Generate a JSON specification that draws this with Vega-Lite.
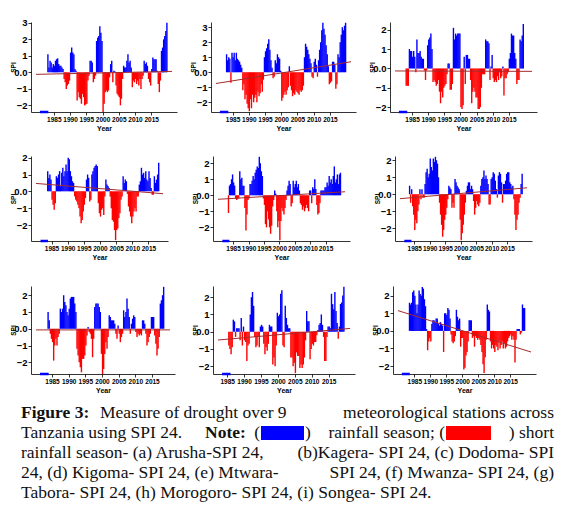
{
"$schema": "https://vega.github.io/schema/vega-lite/v6.json",
"background": "white",
"padding": {"left": 10, "top": 17, "right": 2, "bottom": 2},
"datasets": {
"a": [{"t":1983.17,"v":1.1},{"t":1983.5,"v":0.3},{"t":1983.83,"v":0.7},{"t":1984.17,"v":0.6},{"t":1984.5,"v":0.3},{"t":1984.83,"v":0.5},{"t":1985.17,"v":0.4},{"t":1985.5,"v":0.7},{"t":1985.83,"v":0.8},{"t":1986.17,"v":0.85},{"t":1986.5,"v":0.5},{"t":1986.83,"v":0.4},{"t":1987.17,"v":0.4},{"t":1987.5,"v":0.3},{"t":1987.83,"v":0.2},{"t":1988.17,"v":-0.4},{"t":1988.5,"v":-0.6},{"t":1988.83,"v":-1.0},{"t":1989.17,"v":-0.8},{"t":1989.5,"v":-0.7},{"t":1989.83,"v":-0.5},{"t":1990.17,"v":1.2},{"t":1990.5,"v":1.5},{"t":1990.83,"v":1.2},{"t":1991.17,"v":1.1},{"t":1991.5,"v":0.2},{"t":1991.83,"v":0.1},{"t":1992.17,"v":-1.7},{"t":1992.5,"v":-1.2},{"t":1992.83,"v":-1.5},{"t":1993.17,"v":-1.6},{"t":1993.5,"v":-1.9},{"t":1993.83,"v":-1.3},{"t":1994.17,"v":-1.5},{"t":1994.5,"v":-2.0},{"t":1994.83,"v":-1.95},{"t":1995.17,"v":-1.9},{"t":1995.5,"v":-0.5},{"t":1995.83,"v":-0.2},{"t":1996.17,"v":0.7},{"t":1996.5,"v":0.7},{"t":1996.83,"v":0.6},{"t":1997.17,"v":-0.6},{"t":1997.5,"v":-0.4},{"t":1997.83,"v":-0.2},{"t":1998.17,"v":1.9},{"t":1998.5,"v":2.1},{"t":1998.83,"v":2.2},{"t":1999.17,"v":2.8},{"t":1999.5,"v":2.4},{"t":1999.83,"v":1.9},{"t":2000.17,"v":-2.4},{"t":2000.5,"v":-1.9},{"t":2000.83,"v":-1.2},{"t":2001.17,"v":-1.1},{"t":2001.5,"v":-1.2},{"t":2001.83,"v":-1.1},{"t":2002.17,"v":-0.3},{"t":2002.5,"v":0.5},{"t":2002.83,"v":0.7},{"t":2003.17,"v":-0.6},{"t":2003.5,"v":0.1},{"t":2003.83,"v":0.05},{"t":2004.17,"v":-0.8},{"t":2004.5,"v":-1.3},{"t":2004.83,"v":-1.4},{"t":2005.17,"v":-1.5},{"t":2005.5,"v":-2.0},{"t":2005.83,"v":-1.6},{"t":2006.17,"v":-0.4},{"t":2006.5,"v":0.4},{"t":2006.83,"v":0.3},{"t":2007.17,"v":0.3},{"t":2007.5,"v":0.7},{"t":2007.83,"v":1.1},{"t":2008.17,"v":0.6},{"t":2008.5,"v":0.7},{"t":2008.83,"v":0.3},{"t":2009.17,"v":-0.9},{"t":2009.5,"v":-0.5},{"t":2009.83,"v":-0.6},{"t":2010.17,"v":-0.4},{"t":2010.5,"v":-0.7},{"t":2010.83,"v":-0.5},{"t":2011.17,"v":-0.8},{"t":2011.5,"v":-0.4},{"t":2011.83,"v":-1.0},{"t":2012.17,"v":-0.4},{"t":2012.5,"v":-0.2},{"t":2012.83,"v":0.7},{"t":2013.17,"v":0.5},{"t":2013.5,"v":0.6},{"t":2013.83,"v":0.4},{"t":2014.17,"v":-0.4},{"t":2014.5,"v":-0.6},{"t":2014.83,"v":-0.8},{"t":2015.17,"v":0.2},{"t":2015.5,"v":0.9},{"t":2015.83,"v":0.8},{"t":2016.17,"v":0.8},{"t":2016.5,"v":0.8},{"t":2016.83,"v":0.1},{"t":2017.17,"v":-0.7},{"t":2017.5,"v":-1.2},{"t":2017.83,"v":-0.5},{"t":2018.17,"v":1.3},{"t":2018.5,"v":1.5},{"t":2018.83,"v":2.0},{"t":2019.17,"v":2.2},{"t":2019.5,"v":2.5},{"t":2019.83,"v":3.0}],
"b": [{"t":1983.17,"v":1.2},{"t":1983.5,"v":0.8},{"t":1983.83,"v":1.0},{"t":1984.17,"v":0.9},{"t":1984.5,"v":-0.7},{"t":1984.83,"v":1.3},{"t":1985.17,"v":1.0},{"t":1985.5,"v":1.3},{"t":1985.83,"v":0.8},{"t":1986.17,"v":1.3},{"t":1986.5,"v":0.9},{"t":1986.83,"v":0.8},{"t":1987.17,"v":0.7},{"t":1987.5,"v":0.5},{"t":1987.83,"v":0.3},{"t":1988.17,"v":-1.2},{"t":1988.5,"v":-0.8},{"t":1988.83,"v":-1.8},{"t":1989.17,"v":-1.5},{"t":1989.5,"v":-2.1},{"t":1989.83,"v":-2.4},{"t":1990.17,"v":-2.6},{"t":1990.5,"v":-1.8},{"t":1990.83,"v":-2.4},{"t":1991.17,"v":-1.5},{"t":1991.5,"v":-2.0},{"t":1991.83,"v":-1.7},{"t":1992.17,"v":-1.5},{"t":1992.5,"v":-2.0},{"t":1992.83,"v":-1.3},{"t":1993.17,"v":-1.6},{"t":1993.5,"v":-1.4},{"t":1993.83,"v":-0.8},{"t":1994.17,"v":-1.3},{"t":1994.5,"v":-0.5},{"t":1994.83,"v":1.0},{"t":1995.17,"v":1.4},{"t":1995.5,"v":1.6},{"t":1995.83,"v":1.9},{"t":1996.17,"v":2.2},{"t":1996.5,"v":1.5},{"t":1996.83,"v":0.8},{"t":1997.17,"v":0.3},{"t":1997.5,"v":-0.4},{"t":1997.83,"v":-0.3},{"t":1998.17,"v":0.8},{"t":1998.5,"v":0.6},{"t":1998.83,"v":1.2},{"t":1999.17,"v":1.0},{"t":1999.5,"v":0.9},{"t":1999.83,"v":0.1},{"t":2000.17,"v":-1.9},{"t":2000.5,"v":-1.7},{"t":2000.83,"v":-1.5},{"t":2001.17,"v":-1.3},{"t":2001.5,"v":-1.5},{"t":2001.83,"v":-1.2},{"t":2002.17,"v":-1.0},{"t":2002.5,"v":0.4},{"t":2002.83,"v":-0.9},{"t":2003.17,"v":-1.2},{"t":2003.5,"v":-1.6},{"t":2003.83,"v":-1.4},{"t":2004.17,"v":-1.5},{"t":2004.5,"v":-1.2},{"t":2004.83,"v":-1.3},{"t":2005.17,"v":-1.4},{"t":2005.5,"v":-1.5},{"t":2005.83,"v":-1.2},{"t":2006.17,"v":-1.3},{"t":2006.5,"v":-1.2},{"t":2006.83,"v":-0.9},{"t":2007.17,"v":1.0},{"t":2007.5,"v":1.9},{"t":2007.83,"v":1.7},{"t":2008.17,"v":1.5},{"t":2008.5,"v":1.2},{"t":2008.83,"v":0.9},{"t":2009.17,"v":0.6},{"t":2009.5,"v":-0.3},{"t":2009.83,"v":-0.4},{"t":2010.17,"v":0.7},{"t":2010.5,"v":0.9},{"t":2010.83,"v":0.5},{"t":2011.17,"v":-0.3},{"t":2011.5,"v":0.8},{"t":2011.83,"v":1.5},{"t":2012.17,"v":2.0},{"t":2012.5,"v":2.8},{"t":2012.83,"v":3.3},{"t":2013.17,"v":2.9},{"t":2013.5,"v":2.5},{"t":2013.83,"v":1.8},{"t":2014.17,"v":1.2},{"t":2014.5,"v":0.4},{"t":2014.83,"v":-0.8},{"t":2015.17,"v":-0.7},{"t":2015.5,"v":-0.6},{"t":2015.83,"v":0.7},{"t":2016.17,"v":0.7},{"t":2016.5,"v":0.5},{"t":2016.83,"v":-1.1},{"t":2017.17,"v":-0.8},{"t":2017.5,"v":1.2},{"t":2017.83,"v":1.0},{"t":2018.17,"v":2.0},{"t":2018.5,"v":2.5},{"t":2018.83,"v":3.0},{"t":2019.17,"v":2.8},{"t":2019.5,"v":3.1},{"t":2019.83,"v":3.3}],
"c": [{"t":1983.17,"v":-0.9},{"t":1983.5,"v":-0.9},{"t":1983.83,"v":-0.9},{"t":1984.17,"v":1.0},{"t":1984.5,"v":0.9},{"t":1984.83,"v":0.9},{"t":1985.17,"v":0.6},{"t":1985.5,"v":0.9},{"t":1985.83,"v":0.6},{"t":1986.17,"v":-0.2},{"t":1986.5,"v":1.5},{"t":1986.83,"v":0.8},{"t":1987.17,"v":0.8},{"t":1987.5,"v":0.9},{"t":1987.83,"v":0.6},{"t":1988.17,"v":0.5},{"t":1988.5,"v":0.5},{"t":1988.83,"v":-0.1},{"t":1989.17,"v":-0.6},{"t":1989.5,"v":-0.1},{"t":1989.83,"v":1.2},{"t":1990.17,"v":1.5},{"t":1990.5,"v":1.6},{"t":1990.83,"v":1.8},{"t":1991.17,"v":1.0},{"t":1991.5,"v":-0.7},{"t":1991.83,"v":-0.6},{"t":1992.17,"v":-0.7},{"t":1992.5,"v":-0.9},{"t":1992.83,"v":-0.8},{"t":1993.17,"v":-0.6},{"t":1993.5,"v":-1.2},{"t":1993.83,"v":-1.8},{"t":1994.17,"v":-1.2},{"t":1994.5,"v":-1.5},{"t":1994.83,"v":-1.0},{"t":1995.17,"v":-0.9},{"t":1995.5,"v":-0.8},{"t":1995.83,"v":-0.3},{"t":1996.17,"v":0.25},{"t":1996.5,"v":0.25},{"t":1996.83,"v":-1.1},{"t":1997.17,"v":-1.1},{"t":1997.5,"v":-0.8},{"t":1997.83,"v":2.1},{"t":1998.17,"v":1.5},{"t":1998.5,"v":1.8},{"t":1998.83,"v":1.7},{"t":1999.17,"v":1.8},{"t":1999.5,"v":1.8},{"t":1999.83,"v":1.8},{"t":2000.17,"v":-2.0},{"t":2000.5,"v":-2.1},{"t":2000.83,"v":-1.9},{"t":2001.17,"v":0.6},{"t":2001.5,"v":-0.8},{"t":2001.83,"v":0.7},{"t":2002.17,"v":0.7},{"t":2002.5,"v":0.5},{"t":2002.83,"v":0.5},{"t":2003.17,"v":-0.6},{"t":2003.5,"v":-1.8},{"t":2003.83,"v":-1.2},{"t":2004.17,"v":-1.0},{"t":2004.5,"v":-1.2},{"t":2004.83,"v":-1.5},{"t":2005.17,"v":-1.5},{"t":2005.5,"v":-2.1},{"t":2005.83,"v":-2.1},{"t":2006.17,"v":-2.0},{"t":2006.5,"v":-1.0},{"t":2006.83,"v":-0.3},{"t":2007.17,"v":-0.3},{"t":2007.5,"v":-0.3},{"t":2007.83,"v":1.5},{"t":2008.17,"v":1.4},{"t":2008.5,"v":1.4},{"t":2008.83,"v":1.3},{"t":2009.17,"v":-0.6},{"t":2009.5,"v":0.1},{"t":2009.83,"v":0.7},{"t":2010.17,"v":-0.5},{"t":2010.5,"v":-0.7},{"t":2010.83,"v":-0.6},{"t":2011.17,"v":-0.7},{"t":2011.5,"v":-0.4},{"t":2011.83,"v":-0.6},{"t":2012.17,"v":-0.2},{"t":2012.5,"v":-0.5},{"t":2012.83,"v":-0.4},{"t":2013.17,"v":0.1},{"t":2013.5,"v":-1.4},{"t":2013.83,"v":-0.5},{"t":2014.17,"v":-0.5},{"t":2014.5,"v":-0.3},{"t":2014.83,"v":-0.2},{"t":2015.17,"v":0.5},{"t":2015.5,"v":0.8},{"t":2015.83,"v":1.8},{"t":2016.17,"v":1.7},{"t":2016.5,"v":1.7},{"t":2016.83,"v":0.8},{"t":2017.17,"v":0.5},{"t":2017.5,"v":-0.8},{"t":2017.83,"v":-0.6},{"t":2018.17,"v":-0.6},{"t":2018.5,"v":1.5},{"t":2018.83,"v":1.4},{"t":2019.17,"v":1.7},{"t":2019.5,"v":2.3}],
"d": [{"t":1983.83,"v":1.2},{"t":1984.17,"v":0.8},{"t":1984.5,"v":1.0},{"t":1984.83,"v":0.7},{"t":1985.17,"v":-0.5},{"t":1985.5,"v":-0.8},{"t":1985.83,"v":-1.1},{"t":1986.17,"v":-0.7},{"t":1986.5,"v":0.9},{"t":1986.83,"v":0.8},{"t":1987.17,"v":1.0},{"t":1987.5,"v":1.2},{"t":1987.83,"v":0.3},{"t":1988.17,"v":1.1},{"t":1988.5,"v":1.4},{"t":1988.83,"v":0.9},{"t":1989.17,"v":1.2},{"t":1989.5,"v":1.6},{"t":1989.83,"v":1.2},{"t":1990.17,"v":2.0},{"t":1990.5,"v":1.9},{"t":1990.83,"v":1.2},{"t":1991.17,"v":0.9},{"t":1991.5,"v":0.6},{"t":1991.83,"v":0.5},{"t":1992.17,"v":-0.3},{"t":1992.5,"v":-0.5},{"t":1992.83,"v":-0.6},{"t":1993.17,"v":-0.8},{"t":1993.5,"v":-1.0},{"t":1993.83,"v":-1.5},{"t":1994.17,"v":-1.9},{"t":1994.5,"v":-1.7},{"t":1994.83,"v":-1.2},{"t":1995.17,"v":-0.8},{"t":1995.5,"v":-0.4},{"t":1995.83,"v":0.7},{"t":1996.17,"v":1.0},{"t":1996.5,"v":0.8},{"t":1996.83,"v":-0.6},{"t":1997.17,"v":-0.5},{"t":1997.5,"v":1.0},{"t":1997.83,"v":1.2},{"t":1998.17,"v":1.4},{"t":1998.5,"v":1.5},{"t":1998.83,"v":1.6},{"t":1999.17,"v":1.5},{"t":1999.5,"v":-0.7},{"t":1999.83,"v":-1.3},{"t":2000.17,"v":-1.5},{"t":2000.5,"v":-1.1},{"t":2000.83,"v":-1.0},{"t":2001.17,"v":-1.4},{"t":2001.5,"v":-0.3},{"t":2001.83,"v":0.7},{"t":2002.17,"v":0.4},{"t":2002.5,"v":0.3},{"t":2002.83,"v":0.2},{"t":2003.17,"v":-0.3},{"t":2003.5,"v":-1.0},{"t":2003.83,"v":-1.7},{"t":2004.17,"v":-1.8},{"t":2004.5,"v":-2.3},{"t":2004.83,"v":-2.9},{"t":2005.17,"v":-2.3},{"t":2005.5,"v":-2.2},{"t":2005.83,"v":-1.6},{"t":2006.17,"v":-1.3},{"t":2006.5,"v":-0.5},{"t":2006.83,"v":-0.3},{"t":2007.17,"v":0.9},{"t":2007.5,"v":0.5},{"t":2007.83,"v":0.7},{"t":2008.17,"v":0.6},{"t":2008.5,"v":-0.15},{"t":2008.83,"v":-0.9},{"t":2009.17,"v":-1.2},{"t":2009.5,"v":-1.5},{"t":2009.83,"v":-1.9},{"t":2010.17,"v":-1.5},{"t":2010.5,"v":-1.2},{"t":2010.83,"v":-1.0},{"t":2011.17,"v":-1.2},{"t":2011.5,"v":-0.3},{"t":2011.83,"v":-0.3},{"t":2012.17,"v":0.4},{"t":2012.5,"v":0.6},{"t":2012.83,"v":1.4},{"t":2013.17,"v":1.0},{"t":2013.5,"v":1.1},{"t":2013.83,"v":0.8},{"t":2014.17,"v":1.2},{"t":2014.5,"v":0.7},{"t":2014.83,"v":0.6},{"t":2015.17,"v":1.2},{"t":2015.5,"v":0.8},{"t":2015.83,"v":0.2},{"t":2016.17,"v":-0.2},{"t":2016.5,"v":-0.2},{"t":2016.83,"v":0.9},{"t":2017.17,"v":0.5},{"t":2017.5,"v":0.7},{"t":2017.83,"v":1.0},{"t":2018.17,"v":1.7}],
"e": [{"t":1983.5,"v":-1.1},{"t":1983.83,"v":0.6},{"t":1984.17,"v":0.7},{"t":1984.5,"v":1.0},{"t":1984.83,"v":1.3},{"t":1985.17,"v":0.8},{"t":1985.5,"v":0.6},{"t":1985.83,"v":-0.2},{"t":1986.17,"v":-0.3},{"t":1986.5,"v":-0.2},{"t":1986.83,"v":-0.2},{"t":1987.17,"v":1.5},{"t":1987.5,"v":1.0},{"t":1987.83,"v":1.1},{"t":1988.17,"v":0.6},{"t":1988.5,"v":0.6},{"t":1988.83,"v":-0.8},{"t":1989.17,"v":-2.2},{"t":1989.5,"v":-1.2},{"t":1989.83,"v":-0.3},{"t":1990.17,"v":-0.2},{"t":1990.5,"v":0.7},{"t":1990.83,"v":0.7},{"t":1991.17,"v":0.9},{"t":1991.5,"v":1.2},{"t":1991.83,"v":1.0},{"t":1992.17,"v":1.4},{"t":1992.5,"v":1.6},{"t":1992.83,"v":1.8},{"t":1993.17,"v":1.7},{"t":1993.5,"v":2.4},{"t":1993.83,"v":2.0},{"t":1994.17,"v":1.5},{"t":1994.5,"v":1.2},{"t":1994.83,"v":-0.2},{"t":1995.17,"v":-0.6},{"t":1995.5,"v":-1.8},{"t":1995.83,"v":-2.0},{"t":1996.17,"v":-1.0},{"t":1996.5,"v":-1.5},{"t":1996.83,"v":-2.0},{"t":1997.17,"v":-2.4},{"t":1997.5,"v":-1.9},{"t":1997.83,"v":-0.7},{"t":1998.17,"v":-0.3},{"t":1998.5,"v":0.3},{"t":1998.83,"v":0.1},{"t":1999.17,"v":-1.0},{"t":1999.5,"v":-2.0},{"t":1999.83,"v":-1.6},{"t":2000.17,"v":-2.8},{"t":2000.5,"v":-1.6},{"t":2000.83,"v":-0.8},{"t":2001.17,"v":-1.0},{"t":2001.5,"v":-1.2},{"t":2001.83,"v":-0.8},{"t":2002.17,"v":-0.3},{"t":2002.5,"v":0.3},{"t":2002.83,"v":0.6},{"t":2003.17,"v":0.9},{"t":2003.5,"v":0.7},{"t":2003.83,"v":-0.7},{"t":2004.17,"v":-0.5},{"t":2004.5,"v":0.9},{"t":2004.83,"v":0.5},{"t":2005.17,"v":0.7},{"t":2005.5,"v":0.9},{"t":2005.83,"v":0.5},{"t":2006.17,"v":0.7},{"t":2006.5,"v":0.3},{"t":2006.83,"v":-0.5},{"t":2007.17,"v":-0.6},{"t":2007.5,"v":-0.9},{"t":2007.83,"v":-0.7},{"t":2008.17,"v":-1.0},{"t":2008.5,"v":-0.8},{"t":2008.83,"v":-0.6},{"t":2009.17,"v":-0.8},{"t":2009.5,"v":-1.0},{"t":2009.83,"v":0.3},{"t":2010.17,"v":0.3},{"t":2010.5,"v":-0.5},{"t":2010.83,"v":0.5},{"t":2011.17,"v":0.4},{"t":2011.5,"v":1.0},{"t":2011.83,"v":0.4},{"t":2012.17,"v":-0.6},{"t":2012.5,"v":-1.2},{"t":2012.83,"v":-1.1},{"t":2013.17,"v":-0.5},{"t":2013.5,"v":0.3},{"t":2013.83,"v":0.3},{"t":2014.17,"v":0.3},{"t":2014.5,"v":0.3},{"t":2014.83,"v":0.5},{"t":2015.17,"v":0.5},{"t":2015.5,"v":0.8},{"t":2015.83,"v":0.6},{"t":2016.17,"v":1.2},{"t":2016.5,"v":0.8},{"t":2016.83,"v":1.0},{"t":2017.17,"v":0.7},{"t":2017.5,"v":1.2},{"t":2017.83,"v":1.8},{"t":2018.17,"v":0.8},{"t":2018.5,"v":1.0},{"t":2018.83,"v":1.3},{"t":2019.17,"v":0.7},{"t":2019.5,"v":1.3},{"t":2019.83,"v":1.4}],
"f": [{"t":1983.5,"v":0.5},{"t":1983.83,"v":-0.5},{"t":1984.17,"v":0.3},{"t":1984.5,"v":-0.7},{"t":1984.83,"v":-1.2},{"t":1985.17,"v":-2.1},{"t":1985.5,"v":-1.5},{"t":1985.83,"v":-1.7},{"t":1986.17,"v":-1.0},{"t":1986.5,"v":-0.6},{"t":1986.83,"v":0.3},{"t":1987.17,"v":-0.3},{"t":1987.5,"v":0.3},{"t":1987.83,"v":-0.2},{"t":1988.17,"v":-0.2},{"t":1988.5,"v":0.6},{"t":1988.83,"v":1.3},{"t":1989.17,"v":1.5},{"t":1989.5,"v":1.0},{"t":1989.83,"v":1.2},{"t":1990.17,"v":2.1},{"t":1990.5,"v":1.6},{"t":1990.83,"v":1.4},{"t":1991.17,"v":2.1},{"t":1991.5,"v":1.9},{"t":1991.83,"v":2.2},{"t":1992.17,"v":2.0},{"t":1992.5,"v":1.8},{"t":1992.83,"v":1.0},{"t":1993.17,"v":-0.5},{"t":1993.5,"v":-1.2},{"t":1993.83,"v":-1.8},{"t":1994.17,"v":-2.5},{"t":1994.5,"v":-2.1},{"t":1994.83,"v":-1.5},{"t":1995.17,"v":-1.2},{"t":1995.5,"v":-0.8},{"t":1995.83,"v":-0.3},{"t":1996.17,"v":0.5},{"t":1996.5,"v":0.4},{"t":1996.83,"v":0.3},{"t":1997.17,"v":-0.8},{"t":1997.5,"v":-0.5},{"t":1997.83,"v":-0.8},{"t":1998.17,"v":0.9},{"t":1998.5,"v":0.7},{"t":1998.83,"v":0.5},{"t":1999.17,"v":0.4},{"t":1999.5,"v":0.3},{"t":1999.83,"v":-1.5},{"t":2000.17,"v":-2.7},{"t":2000.5,"v":-2.3},{"t":2000.83,"v":-1.8},{"t":2001.17,"v":-1.2},{"t":2001.5,"v":-0.5},{"t":2001.83,"v":0.2},{"t":2002.17,"v":0.5},{"t":2002.5,"v":0.7},{"t":2002.83,"v":0.7},{"t":2003.17,"v":0.3},{"t":2003.5,"v":0.5},{"t":2003.83,"v":0.3},{"t":2004.17,"v":-0.4},{"t":2004.5,"v":-1.2},{"t":2004.83,"v":-0.8},{"t":2005.17,"v":-0.4},{"t":2005.5,"v":-0.6},{"t":2005.83,"v":-0.7},{"t":2006.17,"v":-0.5},{"t":2006.5,"v":0.5},{"t":2006.83,"v":0.9},{"t":2007.17,"v":1.0},{"t":2007.5,"v":1.4},{"t":2007.83,"v":0.9},{"t":2008.17,"v":1.1},{"t":2008.5,"v":0.9},{"t":2008.83,"v":0.6},{"t":2009.17,"v":-0.6},{"t":2009.5,"v":-0.6},{"t":2009.83,"v":0.9},{"t":2010.17,"v":1.0},{"t":2010.5,"v":1.3},{"t":2010.83,"v":1.2},{"t":2011.17,"v":0.8},{"t":2011.5,"v":0.3},{"t":2011.83,"v":-0.2},{"t":2012.17,"v":1.1},{"t":2012.5,"v":1.3},{"t":2012.83,"v":1.2},{"t":2013.17,"v":0.7},{"t":2013.5,"v":-0.5},{"t":2013.83,"v":0.6},{"t":2014.17,"v":0.6},{"t":2014.5,"v":0.8},{"t":2014.83,"v":1.2},{"t":2015.17,"v":1.3},{"t":2015.5,"v":1.3},{"t":2015.83,"v":0.7},{"t":2016.17,"v":0.6},{"t":2016.5,"v":0.4},{"t":2016.83,"v":0.5},{"t":2017.17,"v":-0.3},{"t":2017.5,"v":-1.2},{"t":2017.83,"v":-2.1},{"t":2018.17,"v":-1.5},{"t":2018.5,"v":-1.2},{"t":2018.83,"v":-0.5},{"t":2019.17,"v":-0.2},{"t":2019.5,"v":0.6},{"t":2019.83,"v":1.2}],
"g": [{"t":1983.83,"v":1.0},{"t":1984.17,"v":0.5},{"t":1984.5,"v":-0.3},{"t":1984.83,"v":-0.6},{"t":1985.17,"v":-0.8},{"t":1985.5,"v":-1.9},{"t":1985.83,"v":-1.0},{"t":1986.17,"v":-0.6},{"t":1986.5,"v":-1.0},{"t":1986.83,"v":-0.5},{"t":1987.17,"v":-0.3},{"t":1987.5,"v":1.2},{"t":1987.83,"v":1.0},{"t":1988.17,"v":1.2},{"t":1988.5,"v":2.0},{"t":1988.83,"v":1.6},{"t":1989.17,"v":1.4},{"t":1989.5,"v":1.0},{"t":1989.83,"v":0.8},{"t":1990.17,"v":1.2},{"t":1990.5,"v":1.8},{"t":1990.83,"v":1.9},{"t":1991.17,"v":1.9},{"t":1991.5,"v":1.9},{"t":1991.83,"v":1.5},{"t":1992.17,"v":1.0},{"t":1992.5,"v":-1.2},{"t":1992.83,"v":-1.6},{"t":1993.17,"v":-2.0},{"t":1993.5,"v":-2.3},{"t":1993.83,"v":-2.6},{"t":1994.17,"v":-1.8},{"t":1994.5,"v":-1.8},{"t":1994.83,"v":-1.6},{"t":1995.17,"v":-1.0},{"t":1995.5,"v":-0.4},{"t":1995.83,"v":0.1},{"t":1996.17,"v":-0.2},{"t":1996.5,"v":-0.3},{"t":1996.83,"v":-0.6},{"t":1997.17,"v":-1.7},{"t":1997.5,"v":-0.6},{"t":1997.83,"v":1.3},{"t":1998.17,"v":1.5},{"t":1998.5,"v":1.5},{"t":1998.83,"v":1.5},{"t":1999.17,"v":1.3},{"t":1999.5,"v":1.0},{"t":1999.83,"v":-1.5},{"t":2000.17,"v":-2.7},{"t":2000.5,"v":-2.4},{"t":2000.83,"v":-1.5},{"t":2001.17,"v":-0.8},{"t":2001.5,"v":-1.2},{"t":2001.83,"v":-0.5},{"t":2002.17,"v":0.8},{"t":2002.5,"v":0.7},{"t":2002.83,"v":0.5},{"t":2003.17,"v":0.5},{"t":2003.5,"v":0.5},{"t":2003.83,"v":0.3},{"t":2004.17,"v":-0.3},{"t":2004.5,"v":-0.6},{"t":2004.83,"v":0.2},{"t":2005.17,"v":-0.3},{"t":2005.5,"v":-0.8},{"t":2005.83,"v":-0.5},{"t":2006.17,"v":-0.3},{"t":2006.5,"v":1.1},{"t":2006.83,"v":0.7},{"t":2007.17,"v":1.0},{"t":2007.5,"v":1.8},{"t":2007.83,"v":1.2},{"t":2008.17,"v":0.7},{"t":2008.5,"v":-0.3},{"t":2008.83,"v":0.3},{"t":2009.17,"v":0.6},{"t":2009.5,"v":0.8},{"t":2009.83,"v":0.7},{"t":2010.17,"v":-0.2},{"t":2010.5,"v":-0.5},{"t":2010.83,"v":-0.3},{"t":2011.17,"v":-0.4},{"t":2011.5,"v":-0.3},{"t":2011.83,"v":-0.4},{"t":2012.17,"v":0.5},{"t":2012.5,"v":0.5},{"t":2012.83,"v":0.3},{"t":2013.17,"v":-0.3},{"t":2013.5,"v":-1.0},{"t":2013.83,"v":-0.8},{"t":2014.17,"v":-0.5},{"t":2014.5,"v":-0.3},{"t":2014.83,"v":0.7},{"t":2015.17,"v":0.7},{"t":2015.5,"v":0.7},{"t":2015.83,"v":-0.4},{"t":2016.17,"v":-0.9},{"t":2016.5,"v":-1.6},{"t":2016.83,"v":-1.2},{"t":2017.17,"v":-0.5},{"t":2017.5,"v":1.5},{"t":2017.83,"v":1.7},{"t":2018.17,"v":2.0},{"t":2018.5,"v":2.5}],
"h": [{"t":1985.5,"v":-0.8},{"t":1985.83,"v":-1.0},{"t":1986.17,"v":-1.3},{"t":1986.5,"v":-0.9},{"t":1986.83,"v":0.7},{"t":1987.17,"v":0.6},{"t":1987.5,"v":-0.3},{"t":1987.83,"v":0.2},{"t":1988.17,"v":0.2},{"t":1988.5,"v":0.2},{"t":1988.83,"v":-0.5},{"t":1989.17,"v":0.8},{"t":1989.5,"v":-0.8},{"t":1989.83,"v":0.3},{"t":1990.17,"v":-0.5},{"t":1990.5,"v":-0.6},{"t":1990.83,"v":-1.7},{"t":1991.17,"v":-0.8},{"t":1991.5,"v":-0.7},{"t":1991.83,"v":1.0},{"t":1992.17,"v":2.0},{"t":1992.5,"v":2.3},{"t":1992.83,"v":1.5},{"t":1993.17,"v":-0.3},{"t":1993.5,"v":-0.9},{"t":1993.83,"v":-0.8},{"t":1994.17,"v":-0.3},{"t":1994.5,"v":-0.9},{"t":1994.83,"v":0.3},{"t":1995.17,"v":0.4},{"t":1995.5,"v":0.3},{"t":1995.83,"v":-0.7},{"t":1996.17,"v":-1.3},{"t":1996.5,"v":-0.9},{"t":1996.83,"v":-1.1},{"t":1997.17,"v":-0.7},{"t":1997.5,"v":0.4},{"t":1997.83,"v":0.3},{"t":1998.17,"v":0.3},{"t":1998.5,"v":-1.9},{"t":1998.83,"v":-1.5},{"t":1999.17,"v":-2.0},{"t":1999.5,"v":-0.8},{"t":1999.83,"v":1.1},{"t":2000.17,"v":0.9},{"t":2000.5,"v":1.0},{"t":2000.83,"v":2.2},{"t":2001.17,"v":2.4},{"t":2001.5,"v":-0.8},{"t":2001.83,"v":-0.9},{"t":2002.17,"v":1.5},{"t":2002.5,"v":0.8},{"t":2002.83,"v":0.4},{"t":2003.17,"v":0.2},{"t":2003.5,"v":0.2},{"t":2003.83,"v":-1.5},{"t":2004.17,"v":-1.5},{"t":2004.5,"v":-2.0},{"t":2004.83,"v":-1.8},{"t":2005.17,"v":-2.4},{"t":2005.5,"v":-1.2},{"t":2005.83,"v":-1.4},{"t":2006.17,"v":-1.4},{"t":2006.5,"v":-2.1},{"t":2006.83,"v":-1.9},{"t":2007.17,"v":-2.1},{"t":2007.5,"v":-1.9},{"t":2007.83,"v":-1.5},{"t":2008.17,"v":-0.5},{"t":2008.5,"v":1.2},{"t":2008.83,"v":0.6},{"t":2009.17,"v":0.6},{"t":2009.5,"v":-1.6},{"t":2009.83,"v":-1.0},{"t":2010.17,"v":-0.7},{"t":2010.5,"v":-0.8},{"t":2010.83,"v":-0.6},{"t":2011.17,"v":-0.6},{"t":2011.5,"v":-0.2},{"t":2011.83,"v":0.1},{"t":2012.17,"v":0.4},{"t":2012.5,"v":0.5},{"t":2012.83,"v":1.0},{"t":2013.17,"v":0.4},{"t":2013.5,"v":-0.3},{"t":2013.83,"v":-1.7},{"t":2014.17,"v":-1.7},{"t":2014.5,"v":-0.3},{"t":2014.83,"v":0.3},{"t":2015.17,"v":0.3},{"t":2015.5,"v":0.2},{"t":2015.83,"v":2.2},{"t":2016.17,"v":1.6},{"t":2016.5,"v":1.3},{"t":2016.83,"v":2.3},{"t":2017.17,"v":1.2},{"t":2017.5,"v":0.5},{"t":2017.83,"v":-0.4},{"t":2018.17,"v":0.3},{"t":2018.5,"v":1.6},{"t":2018.83,"v":1.7},{"t":2019.17,"v":2.1},{"t":2019.5,"v":2.6}],
"i": [{"t":1983.5,"v":1.6},{"t":1983.83,"v":1.5},{"t":1984.17,"v":1.6},{"t":1984.5,"v":2.2},{"t":1984.83,"v":2.3},{"t":1985.17,"v":2.0},{"t":1985.5,"v":1.5},{"t":1985.83,"v":1.0},{"t":1986.17,"v":1.5},{"t":1986.5,"v":2.3},{"t":1986.83,"v":2.1},{"t":1987.17,"v":2.0},{"t":1987.5,"v":2.5},{"t":1987.83,"v":2.4},{"t":1988.17,"v":1.8},{"t":1988.5,"v":1.4},{"t":1988.83,"v":0.1},{"t":1989.17,"v":-1.1},{"t":1989.5,"v":-0.6},{"t":1989.83,"v":-0.4},{"t":1990.17,"v":-0.6},{"t":1990.5,"v":0.4},{"t":1990.83,"v":0.6},{"t":1991.17,"v":0.6},{"t":1991.5,"v":0.5},{"t":1991.83,"v":0.7},{"t":1992.17,"v":0.7},{"t":1992.5,"v":0.4},{"t":1992.83,"v":0.3},{"t":1993.17,"v":0.5},{"t":1993.5,"v":0.4},{"t":1993.83,"v":0.3},{"t":1994.17,"v":-1.2},{"t":1994.5,"v":1.0},{"t":1994.83,"v":1.0},{"t":1995.17,"v":0.9},{"t":1995.5,"v":1.3},{"t":1995.83,"v":1.2},{"t":1996.17,"v":0.7},{"t":1996.5,"v":-0.2},{"t":1996.83,"v":-0.6},{"t":1997.17,"v":-0.7},{"t":1997.5,"v":-0.6},{"t":1997.83,"v":-0.3},{"t":1998.17,"v":1.2},{"t":1998.5,"v":0.8},{"t":1998.83,"v":0.6},{"t":1999.17,"v":0.7},{"t":1999.5,"v":-0.9},{"t":1999.83,"v":-0.4},{"t":2000.17,"v":-0.4},{"t":2000.5,"v":-2.2},{"t":2000.83,"v":-2.1},{"t":2001.17,"v":-1.4},{"t":2001.5,"v":-1.2},{"t":2001.83,"v":-0.6},{"t":2002.17,"v":0.6},{"t":2002.5,"v":0.6},{"t":2002.83,"v":0.6},{"t":2003.17,"v":-0.4},{"t":2003.5,"v":-0.3},{"t":2003.83,"v":-0.9},{"t":2004.17,"v":-0.3},{"t":2004.5,"v":-0.4},{"t":2004.83,"v":-0.5},{"t":2005.17,"v":-0.4},{"t":2005.5,"v":-0.5},{"t":2005.83,"v":-0.8},{"t":2006.17,"v":-1.2},{"t":2006.5,"v":-1.9},{"t":2006.83,"v":-2.4},{"t":2007.17,"v":-1.5},{"t":2007.5,"v":-0.5},{"t":2007.83,"v":1.5},{"t":2008.17,"v":1.2},{"t":2008.5,"v":1.1},{"t":2008.83,"v":-0.6},{"t":2009.17,"v":-1.0},{"t":2009.5,"v":-0.8},{"t":2009.83,"v":-1.0},{"t":2010.17,"v":-1.2},{"t":2010.5,"v":-0.8},{"t":2010.83,"v":-0.9},{"t":2011.17,"v":-1.1},{"t":2011.5,"v":-0.6},{"t":2011.83,"v":-1.0},{"t":2012.17,"v":-0.8},{"t":2012.5,"v":-0.6},{"t":2012.83,"v":-1.0},{"t":2013.17,"v":-0.7},{"t":2013.5,"v":-1.0},{"t":2013.83,"v":-0.9},{"t":2014.17,"v":-0.6},{"t":2014.5,"v":-0.4},{"t":2014.83,"v":-0.3},{"t":2015.17,"v":-0.2},{"t":2015.5,"v":-0.5},{"t":2015.83,"v":-0.3},{"t":2016.17,"v":-0.5},{"t":2016.5,"v":-1.8},{"t":2016.83,"v":-0.5},{"t":2017.17,"v":0.1},{"t":2017.5,"v":0.1},{"t":2017.83,"v":0.1},{"t":2018.17,"v":-0.2},{"t":2018.5,"v":-0.1},{"t":2018.83,"v":1.5},{"t":2019.17,"v":1.3},{"t":2019.5,"v":1.3}],
"a_tr": [{"t":1979.5,"v":-0.12},{"t":2021.4,"v":0.06}],
"b_tr": [{"t":1979.9,"v":-0.75},{"t":2021.5,"v":0.7}],
"c_tr": [{"t":1979.7,"v":-0.13},{"t":2022.2,"v":-0.15}],
"d_tr": [{"t":1980.2,"v":0.47},{"t":2019.5,"v":-0.14}],
"e_tr": [{"t":1980.1,"v":-0.25},{"t":2021.3,"v":0.22}],
"f_tr": [{"t":1980.4,"v":-0.26},{"t":2021.4,"v":0.38}],
"g_tr": [{"t":1980.2,"v":-0.07},{"t":2020.4,"v":-0.07}],
"h_tr": [{"t":1982.3,"v":-0.48},{"t":2021.3,"v":0.19}],
"i_tr": [{"t":1979.9,"v":1.15},{"t":2021.5,"v":-1.2}],
"capL": [{"line":2,"txt":"Tanzania using SPI 24."},{"line":3,"txt":"rainfall season- (a) Arusha-SPI 24,"},{"line":4,"txt":"24, (d) Kigoma- SPI 24, (e) Mtwara-"},{"line":5,"txt":"Tabora- SPI 24, (h) Morogoro- SPI 24, (i) Songea- SPI 24."}],
"capR": [{"line":1,"txt":"meteorological stations across"},{"line":2,"txt":") short"},{"line":3,"txt":"(b)Kagera- SPI 24, (c) Dodoma- SPI"},{"line":4,"txt":"SPI 24, (f) Mwanza- SPI 24, (g)"}]
},
"vconcat": [
{"vconcat": [
{"vconcat": [
{"hconcat": [
{"width": 146, "height": 90, "encoding": {"x": {"field": "t", "type": "quantitative", "scale": {"domain": [1979.5, 2021.4], "nice": false, "zero": false}, "axis": {"values": [1985,1990,1995,2000,2005,2010,2015], "format": "d", "title": "Year", "labelOverlap": false, "labelSeparation": -40}}, "y": {"field": "v", "type": "quantitative", "scale": {"domain": [-2.4, 3.05], "nice": false}, "axis": {"values": [-2,-1,0,1,2,3], "title": "SPI", "labelOverlap": false, "labelSeparation": -40, "labelExpr": "datum.value === 0 ? '0.0' : datum.label"}}}, "layer": [
{"data": {"name": "a"}, "mark": {"type": "bar", "orient": "vertical", "width": 1.4}, "encoding": {"color": {"condition": {"test": "datum.v >= 0", "value": "#0000ff"}, "value": "#ff0000"}}},
{"data": {"name": "a_tr"}, "mark": {"type": "line", "color": "#a52a2a", "strokeWidth": 1}},
{"data": {"values": [{"t": 1980.7, "t2": 1983.3, "v": -2.4}]}, "mark": {"type": "rule", "color": "#0000ff", "strokeWidth": 2.5}, "encoding": {"x2": {"field": "t2"}}}
]},
{"width": 145, "height": 90, "encoding": {"x": {"field": "t", "type": "quantitative", "scale": {"domain": [1979.9, 2021.5], "nice": false, "zero": false}, "axis": {"values": [1985,1990,1995,2000,2005,2010,2015], "format": "d", "title": "Year", "labelOverlap": false, "labelSeparation": -40}}, "y": {"field": "v", "type": "quantitative", "scale": {"domain": [-2.65, 3.35], "nice": false}, "axis": {"values": [-2,-1,0,1,2,3], "title": "SPI", "labelOverlap": false, "labelSeparation": -40, "labelExpr": "datum.value === 0 ? '0.0' : datum.label"}}}, "layer": [
{"data": {"name": "b"}, "mark": {"type": "bar", "orient": "vertical", "width": 1.4}, "encoding": {"color": {"condition": {"test": "datum.v >= 0", "value": "#0000ff"}, "value": "#ff0000"}}},
{"data": {"name": "b_tr"}, "mark": {"type": "line", "color": "#a52a2a", "strokeWidth": 1}},
{"data": {"values": [{"t": 1981.1, "t2": 1983.7, "v": -2.65}]}, "mark": {"type": "rule", "color": "#0000ff", "strokeWidth": 2.5}, "encoding": {"x2": {"field": "t2"}}}
]},
{"width": 147, "height": 90, "encoding": {"x": {"field": "t", "type": "quantitative", "scale": {"domain": [1979.7, 2022.2], "nice": false, "zero": false}, "axis": {"values": [1985,1990,1995,2000,2005,2010,2015], "format": "d", "title": "Year", "labelOverlap": false, "labelSeparation": -40}}, "y": {"field": "v", "type": "quantitative", "scale": {"domain": [-2.25, 2.4], "nice": false}, "axis": {"values": [-2,-1,0,1,2], "title": "SPI", "labelOverlap": false, "labelSeparation": -40, "labelExpr": "datum.value === 0 ? '0.0' : datum.label"}}}, "layer": [
{"data": {"name": "c"}, "mark": {"type": "bar", "orient": "vertical", "width": 1.4}, "encoding": {"color": {"condition": {"test": "datum.v >= 0", "value": "#0000ff"}, "value": "#ff0000"}}},
{"data": {"name": "c_tr"}, "mark": {"type": "line", "color": "#a52a2a", "strokeWidth": 1}},
{"data": {"values": [{"t": 1980.9, "t2": 1983.5, "v": -2.25}]}, "mark": {"type": "rule", "color": "#0000ff", "strokeWidth": 2.5}, "encoding": {"x2": {"field": "t2"}}}
]}
], "spacing": 13},
{"hconcat": [
{"width": 137, "height": 85, "encoding": {"x": {"field": "t", "type": "quantitative", "scale": {"domain": [1980.2, 2019.5], "nice": false, "zero": false}, "axis": {"values": [1985,1990,1995,2000,2005,2010,2015], "format": "d", "title": "Year", "labelOverlap": false, "labelSeparation": -40}}, "y": {"field": "v", "type": "quantitative", "scale": {"domain": [-2.95, 2.1], "nice": false}, "axis": {"values": [-2,-1,0,1,2], "title": "SPI", "labelOverlap": false, "labelSeparation": -40, "labelExpr": "datum.value === 0 ? '0.0' : datum.label"}}}, "layer": [
{"data": {"name": "d"}, "mark": {"type": "bar", "orient": "vertical", "width": 1.4}, "encoding": {"color": {"condition": {"test": "datum.v >= 0", "value": "#0000ff"}, "value": "#ff0000"}}},
{"data": {"name": "d_tr"}, "mark": {"type": "line", "color": "#a52a2a", "strokeWidth": 1}},
{"data": {"values": [{"t": 1981.6, "t2": 1983.9, "v": -2.95}]}, "mark": {"type": "rule", "color": "#0000ff", "strokeWidth": 2.5}, "encoding": {"x2": {"field": "t2"}}}
]},
{"width": 137, "height": 85, "encoding": {"x": {"field": "t", "type": "quantitative", "scale": {"domain": [1980.1, 2021.3], "nice": false, "zero": false}, "axis": {"values": [1985,1990,1995,2000,2005,2010,2015], "format": "d", "title": "Year", "labelOverlap": false, "labelSeparation": -40}}, "y": {"field": "v", "type": "quantitative", "scale": {"domain": [-2.85, 2.45], "nice": false}, "axis": {"values": [-2,-1,0,1,2], "title": "SPI", "labelOverlap": false, "labelSeparation": -40, "labelExpr": "datum.value === 0 ? '0.0' : datum.label"}}}, "layer": [
{"data": {"name": "e"}, "mark": {"type": "bar", "orient": "vertical", "width": 1.4}, "encoding": {"color": {"condition": {"test": "datum.v >= 0", "value": "#0000ff"}, "value": "#ff0000"}}},
{"data": {"name": "e_tr"}, "mark": {"type": "line", "color": "#a52a2a", "strokeWidth": 1}},
{"data": {"values": [{"t": 1981.5, "t2": 1983.8, "v": -2.85}]}, "mark": {"type": "rule", "color": "#0000ff", "strokeWidth": 2.5}, "encoding": {"x2": {"field": "t2"}}}
]},
{"width": 137, "height": 85, "encoding": {"x": {"field": "t", "type": "quantitative", "scale": {"domain": [1980.4, 2021.4], "nice": false, "zero": false}, "axis": {"values": [1985,1990,1995,2000,2005,2010,2015], "format": "d", "title": "Year", "labelOverlap": false, "labelSeparation": -40}}, "y": {"field": "v", "type": "quantitative", "scale": {"domain": [-2.75, 2.25], "nice": false}, "axis": {"values": [-2,-1,0,1,2], "title": "SPI", "labelOverlap": false, "labelSeparation": -40, "labelExpr": "datum.value === 0 ? '0.0' : datum.label"}}}, "layer": [
{"data": {"name": "f"}, "mark": {"type": "bar", "orient": "vertical", "width": 1.4}, "encoding": {"color": {"condition": {"test": "datum.v >= 0", "value": "#0000ff"}, "value": "#ff0000"}}},
{"data": {"name": "f_tr"}, "mark": {"type": "line", "color": "#a52a2a", "strokeWidth": 1}},
{"data": {"values": [{"t": 1981.8, "t2": 1984.1, "v": -2.75}]}, "mark": {"type": "rule", "color": "#0000ff", "strokeWidth": 2.5}, "encoding": {"x2": {"field": "t2"}}}
]}
], "spacing": 24}
], "spacing": 20},
{"hconcat": [
{"width": 144, "height": 88, "encoding": {"x": {"field": "t", "type": "quantitative", "scale": {"domain": [1980.2, 2020.4], "nice": false, "zero": false}, "axis": {"values": [1985,1990,1995,2000,2005,2010,2015], "format": "d", "title": "Year", "labelOverlap": false, "labelSeparation": -40}}, "y": {"field": "v", "type": "quantitative", "scale": {"domain": [-2.7, 2.55], "nice": false}, "axis": {"values": [-2,-1,0,1,2], "title": "SPI", "labelOverlap": false, "labelSeparation": -40, "labelExpr": "datum.value === 0 ? '0.0' : datum.label"}}}, "layer": [
{"data": {"name": "g"}, "mark": {"type": "bar", "orient": "vertical", "width": 1.4}, "encoding": {"color": {"condition": {"test": "datum.v >= 0", "value": "#0000ff"}, "value": "#ff0000"}}},
{"data": {"name": "g_tr"}, "mark": {"type": "line", "color": "#a52a2a", "strokeWidth": 1}},
{"data": {"values": [{"t": 1981.4, "t2": 1984.0, "v": -2.7}]}, "mark": {"type": "rule", "color": "#0000ff", "strokeWidth": 2.5}, "encoding": {"x2": {"field": "t2"}}}
]},
{"width": 142, "height": 88, "encoding": {"x": {"field": "t", "type": "quantitative", "scale": {"domain": [1982.3, 2021.3], "nice": false, "zero": false}, "axis": {"values": [1985,1990,1995,2000,2005,2010,2015], "format": "d", "title": "Year", "labelOverlap": false, "labelSeparation": -40}}, "y": {"field": "v", "type": "quantitative", "scale": {"domain": [-2.45, 2.65], "nice": false}, "axis": {"values": [-2,-1,0,1,2], "title": "SPI", "labelOverlap": false, "labelSeparation": -40, "labelExpr": "datum.value === 0 ? '0.0' : datum.label"}}}, "layer": [
{"data": {"name": "h"}, "mark": {"type": "bar", "orient": "vertical", "width": 1.4}, "encoding": {"color": {"condition": {"test": "datum.v >= 0", "value": "#0000ff"}, "value": "#ff0000"}}},
{"data": {"name": "h_tr"}, "mark": {"type": "line", "color": "#a52a2a", "strokeWidth": 1}},
{"data": {"values": [{"t": 1983.5, "t2": 1986.0, "v": -2.45}]}, "mark": {"type": "rule", "color": "#0000ff", "strokeWidth": 2.5}, "encoding": {"x2": {"field": "t2"}}}
]},
{"width": 143, "height": 88, "encoding": {"x": {"field": "t", "type": "quantitative", "scale": {"domain": [1979.9, 2021.5], "nice": false, "zero": false}, "axis": {"values": [1985,1990,1995,2000,2005,2010,2015], "format": "d", "title": "Year", "labelOverlap": false, "labelSeparation": -40}}, "y": {"field": "v", "type": "quantitative", "scale": {"domain": [-2.45, 2.55], "nice": false}, "axis": {"values": [-2,-1,0,1,2], "title": "SPI", "labelOverlap": false, "labelSeparation": -40, "labelExpr": "datum.value === 0 ? '0.0' : datum.label"}}}, "layer": [
{"data": {"name": "i"}, "mark": {"type": "bar", "orient": "vertical", "width": 1.4}, "encoding": {"color": {"condition": {"test": "datum.v >= 0", "value": "#0000ff"}, "value": "#ff0000"}}},
{"data": {"name": "i_tr"}, "mark": {"type": "line", "color": "#a52a2a", "strokeWidth": 1}},
{"data": {"values": [{"t": 1981.1, "t2": 1983.6, "v": -2.45}]}, "mark": {"type": "rule", "color": "#0000ff", "strokeWidth": 2.5}, "encoding": {"x2": {"field": "t2"}}}
]}
], "spacing": 17}
], "spacing": 25},
{"width": 520, "height": 100, "layer": [
{"data": {"name": "capL"}, "mark": {"type": "text", "align": "left", "baseline": "middle", "font": "Liberation Serif", "fontSize": 17.5, "color": "#111111"}, "encoding": {"x": {"datum": 0, "type": "quantitative", "scale": {"domain": [10, 530], "nice": false, "zero": false}, "axis": null}, "y": {"field": "line", "type": "quantitative", "scale": {"domain": [0.5, 5.5], "reverse": true, "nice": false, "zero": false}, "axis": null}, "text": {"field": "txt"}}},
{"data": {"name": "capR"}, "mark": {"type": "text", "align": "right", "baseline": "middle", "font": "Liberation Serif", "fontSize": 17.5, "color": "#111111"}, "encoding": {"x": {"datum": 533, "type": "quantitative"}, "y": {"field": "line", "type": "quantitative"}, "text": {"field": "txt"}}},
{"data": {"values": [{"line": 1, "txt": "Figure 3:"}]}, "mark": {"type": "text", "align": "left", "baseline": "middle", "font": "Liberation Serif", "fontSize": 17.5, "fontWeight": "bold", "color": "#111111"}, "encoding": {"x": {"datum": 0, "type": "quantitative"}, "y": {"field": "line", "type": "quantitative"}, "text": {"field": "txt"}}},
{"data": {"values": [{"line": 2, "txt": "Note:"}]}, "mark": {"type": "text", "align": "left", "baseline": "middle", "font": "Liberation Serif", "fontSize": 17.5, "fontWeight": "bold", "color": "#111111"}, "encoding": {"x": {"datum": 184, "type": "quantitative"}, "y": {"field": "line", "type": "quantitative"}, "text": {"field": "txt"}}},
{"data": {"values": [{"line": 1, "txt": "Measure of drought over 9"}]}, "mark": {"type": "text", "align": "left", "baseline": "middle", "font": "Liberation Serif", "fontSize": 17.5, "color": "#111111"}, "encoding": {"x": {"datum": 79, "type": "quantitative"}, "y": {"field": "line", "type": "quantitative"}, "text": {"field": "txt"}}},
{"data": {"values": [{"line": 2, "txt": "("}]}, "mark": {"type": "text", "align": "right", "baseline": "middle", "font": "Liberation Serif", "fontSize": 17.5, "color": "#111111"}, "encoding": {"x": {"datum": 239, "type": "quantitative"}, "y": {"field": "line", "type": "quantitative"}, "text": {"field": "txt"}}},
{"data": {"values": [{"line": 2, "txt": ")"}]}, "mark": {"type": "text", "align": "left", "baseline": "middle", "font": "Liberation Serif", "fontSize": 17.5, "color": "#111111"}, "encoding": {"x": {"datum": 284, "type": "quantitative"}, "y": {"field": "line", "type": "quantitative"}, "text": {"field": "txt"}}},
{"data": {"values": [{"line": 2, "txt": "rainfall season; ("}]}, "mark": {"type": "text", "align": "right", "baseline": "middle", "font": "Liberation Serif", "fontSize": 17.5, "color": "#111111"}, "encoding": {"x": {"datum": 424, "type": "quantitative"}, "y": {"field": "line", "type": "quantitative"}, "text": {"field": "txt"}}},
{"data": {"values": [{"season": "long rainfall"}]}, "mark": {"type": "rect", "color": "#0000ff"}, "encoding": {"x": {"datum": 240, "type": "quantitative"}, "x2": {"datum": 283}, "y": {"datum": 1.65, "type": "quantitative"}, "y2": {"datum": 2.35}}},
{"data": {"values": [{"season": "short rainfall"}]}, "mark": {"type": "rect", "color": "#ff0000"}, "encoding": {"x": {"datum": 425, "type": "quantitative"}, "x2": {"datum": 470}, "y": {"datum": 1.65, "type": "quantitative"}, "y2": {"datum": 2.35}}}
]}
],
"spacing": 9,
"config": {
"view": {"stroke": null},
"axis": {"grid": false, "labelOverlap": false, "labelSeparation": -40, "labelFont": "Liberation Sans", "titleFont": "Liberation Sans", "labelFontWeight": "bold", "titleFontWeight": "bold", "domainColor": "#000000", "tickColor": "#000000", "labelColor": "#000000", "titleColor": "#000000", "tickSize": 3, "domainWidth": 0.8, "tickWidth": 0.8},
"axisX": {"labelFontSize": 6.5, "titleFontSize": 7, "labelPadding": 1, "titlePadding": 2},
"axisY": {"labelFontSize": 9.5, "titleFontSize": 6.5, "labelPadding": 1, "titlePadding": -3}
}
}
